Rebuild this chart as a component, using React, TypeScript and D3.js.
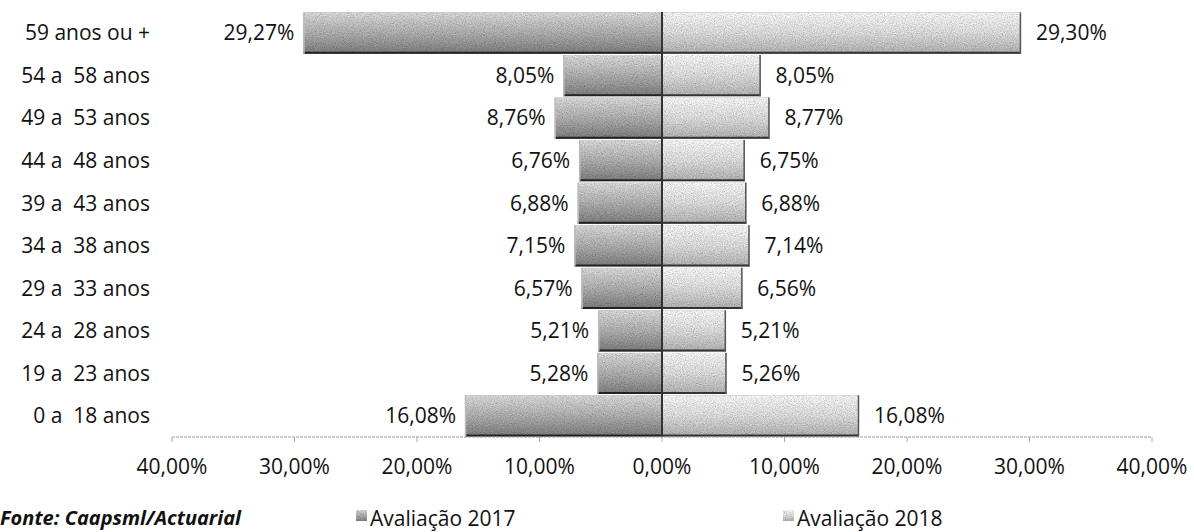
import React from "react";
import * as d3 from "d3";

const categories = [
  "59 anos ou +",
  "54 a  58 anos",
  "49 a  53 anos",
  "44 a  48 anos",
  "39 a  43 anos",
  "34 a  38 anos",
  "29 a  33 anos",
  "24 a  28 anos",
  "19 a  23 anos",
  "0 a  18 anos",
];
const values2017 = [29.27, 8.05, 8.76, 6.76, 6.88, 7.15, 6.57, 5.21, 5.28, 16.08];
const values2018 = [29.3, 8.05, 8.77, 6.75, 6.88, 7.14, 6.56, 5.21, 5.26, 16.08];
const tickValues = [-40, -30, -20, -10, 0, 10, 20, 30, 40];
const seriesNames = ["Avaliação 2017", "Avaliação 2018"];
const sourceNote = "Fonte: Caapsml/Actuarial";

const W = 1194;
const H = 532;
const FONT = "'Open Sans', 'DejaVu Sans', sans-serif";
const FS = 21;

const fmt = (v: number) => d3.format(".2f")(Math.abs(v)).replace(".", ",") + "%";

export default function App() {
  const x = d3.scaleLinear().domain([-40, 40]).range([172, 1152]);
  const y = d3.scaleBand<string>().domain(categories).range([12, 437]).paddingInner(0.03).paddingOuter(0.01);
  const x0 = x(0);
  const bw = y.bandwidth();
  const axisY = 437;

  return (
    <svg
      width={W}
      height={H}
      style={{ position: "absolute", left: 0, top: 0, background: "#fff" }}
      fontFamily={FONT}
    >
      <defs>
        <linearGradient id="gL" x1="0" y1="0" x2="0" y2="1">
          <stop offset="0" stopColor="#d2d2d2" />
          <stop offset="0.5" stopColor="#a8a8a8" />
          <stop offset="1" stopColor="#777" />
        </linearGradient>
        <linearGradient id="gR" x1="0" y1="0" x2="0" y2="1">
          <stop offset="0" stopColor="#eeeeee" />
          <stop offset="0.5" stopColor="#d4d4d4" />
          <stop offset="1" stopColor="#aaaaaa" />
        </linearGradient>
        <filter id="grain" x="0" y="0" width="100%" height="100%" filterUnits="objectBoundingBox">
          <feTurbulence type="fractalNoise" baseFrequency="0.9" numOctaves="2" seed="4" result="t" />
          <feColorMatrix
            in="t"
            type="matrix"
            values="0.33 0.33 0.33 0 0  0.33 0.33 0.33 0 0  0.33 0.33 0.33 0 0  0 0 0 0 1"
            result="n"
          />
          <feComposite in="SourceGraphic" in2="n" operator="arithmetic" k1="1.6" k2="0.2" k3="0" k4="0" result="m" />
          <feComposite in="m" in2="SourceGraphic" operator="in" />
        </filter>
      </defs>

      {/* bars */}
      <g filter="url(#grain)">
        {categories.map((c, i) => {
          const yy = y(c)!;
          const xl = x(-values2017[i]);
          const xr = x(values2018[i]);
          return (
            <g key={c}>
              <rect x={xl} y={yy} width={x0 - xl} height={bw} fill="url(#gL)" />
              <rect x={x0} y={yy} width={xr - x0} height={bw} fill="url(#gR)" />
            </g>
          );
        })}
      </g>
      {/* bar edges */}
      {categories.map((c, i) => {
        const yy = y(c)!;
        const xl = x(-values2017[i]);
        const xr = x(values2018[i]);
        return (
          <g key={"e" + c}>
            <line x1={xl} x2={x0} y1={yy + bw - 1} y2={yy + bw - 1} stroke="#222" strokeWidth={2} />
            <line x1={x0} x2={xr} y1={yy + bw - 1} y2={yy + bw - 1} stroke="#333" strokeWidth={2} />
            <line x1={xl + 0.5} x2={xl + 0.5} y1={yy} y2={yy + bw} stroke="#bbb" strokeWidth={1.5} />
            <line x1={xr - 0.5} x2={xr - 0.5} y1={yy} y2={yy + bw} stroke="#555" strokeWidth={1.5} />
          </g>
        );
      })}
      {/* zero line */}
      <line x1={x0} x2={x0} y1={12} y2={axisY} stroke="#333" strokeWidth={2} />

      {/* axis */}
      <line x1={x(-40)} x2={x(40)} y1={axisY} y2={axisY} stroke="#999" strokeWidth={1} strokeDasharray="3 1" />
      {tickValues.map((t) => (
        <g key={t}>
          <line x1={x(t)} x2={x(t)} y1={axisY} y2={axisY + 5} stroke="#aaa" strokeWidth={1} />
          <text x={x(t)} y={axisY + 37} textAnchor="middle" fontSize={FS} fill="#111">
            {fmt(t)}
          </text>
        </g>
      ))}

      {/* category labels */}
      {categories.map((c) => (
        <text
          key={"c" + c}
          x={150}
          y={y(c)! + bw / 2}
          dy="0.35em"
          textAnchor="end"
          fontSize={FS}
          fill="#111"
          style={{ whiteSpace: "pre" }}
        >
          {c}
        </text>
      ))}

      {/* value labels */}
      {categories.map((c, i) => (
        <g key={"v" + c}>
          <text x={x(-values2017[i]) - 9} y={y(c)! + bw / 2} dy="0.35em" textAnchor="end" fontSize={FS} fill="#111">
            {fmt(values2017[i])}
          </text>
          <text x={x(values2018[i]) + 15} y={y(c)! + bw / 2} dy="0.35em" textAnchor="start" fontSize={FS} fill="#111">
            {fmt(values2018[i])}
          </text>
        </g>
      ))}

      {/* legend */}
      <g filter="url(#grain)">
        <rect x={356} y={510} width={11} height={11} fill="url(#gL)" />
        <rect x={783} y={510} width={11} height={11} fill="url(#gR)" />
      </g>
      <text x={370} y={526} fontSize={FS} fill="#111">
        {seriesNames[0]}
      </text>
      <text x={797} y={526} fontSize={FS} fill="#111">
        {seriesNames[1]}
      </text>

      {/* source */}
      <text x={0} y={525} fontSize={20} fontWeight="bold" fontStyle="italic" fill="#111">
        {sourceNote}
      </text>
    </svg>
  );
}
